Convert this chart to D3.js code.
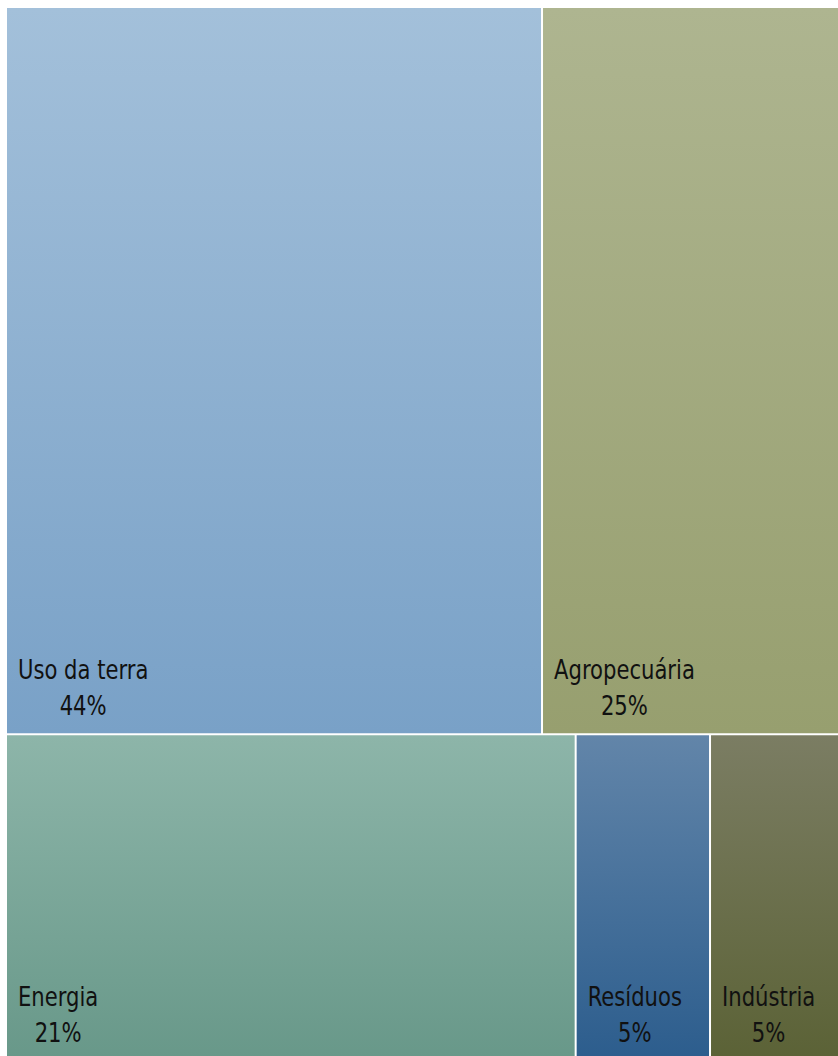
<!DOCTYPE html>
<html>
<head>
<meta charset="utf-8">
<script src="https://cdn.jsdelivr.net/npm/d3@7"></script>
<style>
  html, body { margin: 0; padding: 0; background: #fff; overflow: hidden; }
  text { font-family: "Liberation Sans Narrow", "DejaVu Sans Condensed", sans-serif; fill: #111; }
</style>
</head>
<body>
<script>
// emission shares by sector (%)
const rowTop = ['Uso da terra', 'Agropecuária'];
const rowTopValues = [44.4, 24.6];
const rowBottom = ['Energia', 'Resíduos', 'Indústria'];
const rowBottomValues = [21.2, 5.0, 4.8];
const shownPercent = { 'Uso da terra': 44, 'Agropecuária': 25, 'Energia': 21, 'Resíduos': 5, 'Indústria': 5 };

// gradient stops, top -> bottom
const gradients = {
  'Uso da terra': ['#a3c0da', '#79a1c7'],
  'Agropecuária': ['#aeb590', '#979f6f'],
  'Energia': ['#8db5a9', '#689889'],
  'Resíduos': ['#6285a9', '#2c5d8d'],
  'Indústria': ['#7b7d63', '#5b6236'],
};

const width = 838, height = 1056;
const svg = d3.select('body').append('svg')
  .attr('width', width)
  .attr('height', height);

const defs = svg.append('defs');
Object.entries(gradients).forEach(([name, [c0, c1]], i) => {
  const g = defs.append('linearGradient')
    .attr('id', 'grad' + i)
    .attr('x1', 0).attr('y1', 0).attr('x2', 0).attr('y2', 1);
  g.append('stop').attr('offset', '0%').attr('stop-color', c0);
  g.append('stop').attr('offset', '100%').attr('stop-color', c1);
});
const gradId = (name) => 'url(#grad' + Object.keys(gradients).indexOf(name) + ')';

const data = {
  name: 'root',
  children: [
    { name: 'top', children: rowTop.map((n, i) => ({ name: n, value: rowTopValues[i] })) },
    { name: 'bottom', children: rowBottom.map((n, i) => ({ name: n, value: rowBottomValues[i] })) },
  ],
};

const root = d3.hierarchy(data)
  .sum((d) => d.value || 0);

// rows stacked top to bottom, cells left to right
d3.treemap()
  .tile((node, x0, y0, x1, y1) => {
    if (node.depth === 0) d3.treemapSlice(node, x0, y0, x1, y1);
    else d3.treemapDice(node, x0, y0, x1, y1);
  })
  .size([831, 1052])
  .paddingInner(2)(root);

const g = svg.append('g').attr('transform', 'translate(7,8)');

const leaves = g.selectAll('g.leaf')
  .data(root.leaves())
  .join('g')
  .attr('class', 'leaf')
  .attr('transform', (d) => `translate(${d.x0},${d.y0})`);

leaves.append('rect')
  .attr('width', (d) => d.x1 - d.x0)
  .attr('height', (d) => d.y1 - d.y0)
  .attr('fill', (d) => gradId(d.data.name));

// labels: name, then the share centred under it; squeezed to look condensed
leaves.each(function (d) {
  const h = d.y1 - d.y0;
  const lab = d3.select(this).append('g')
    .attr('transform', 'translate(11,0) scale(0.87,1)');
  const t1 = lab.append('text')
    .attr('x', 0)
    .attr('y', h - 54)
    .attr('font-size', 27)
    .text(d.data.name);
  const w = t1.node().getComputedTextLength();
  lab.append('text')
    .attr('x', w / 2)
    .attr('y', h - 18)
    .attr('font-size', 27)
    .attr('text-anchor', 'middle')
    .text(shownPercent[d.data.name] + '%');
});
</script>
</body>
</html>
